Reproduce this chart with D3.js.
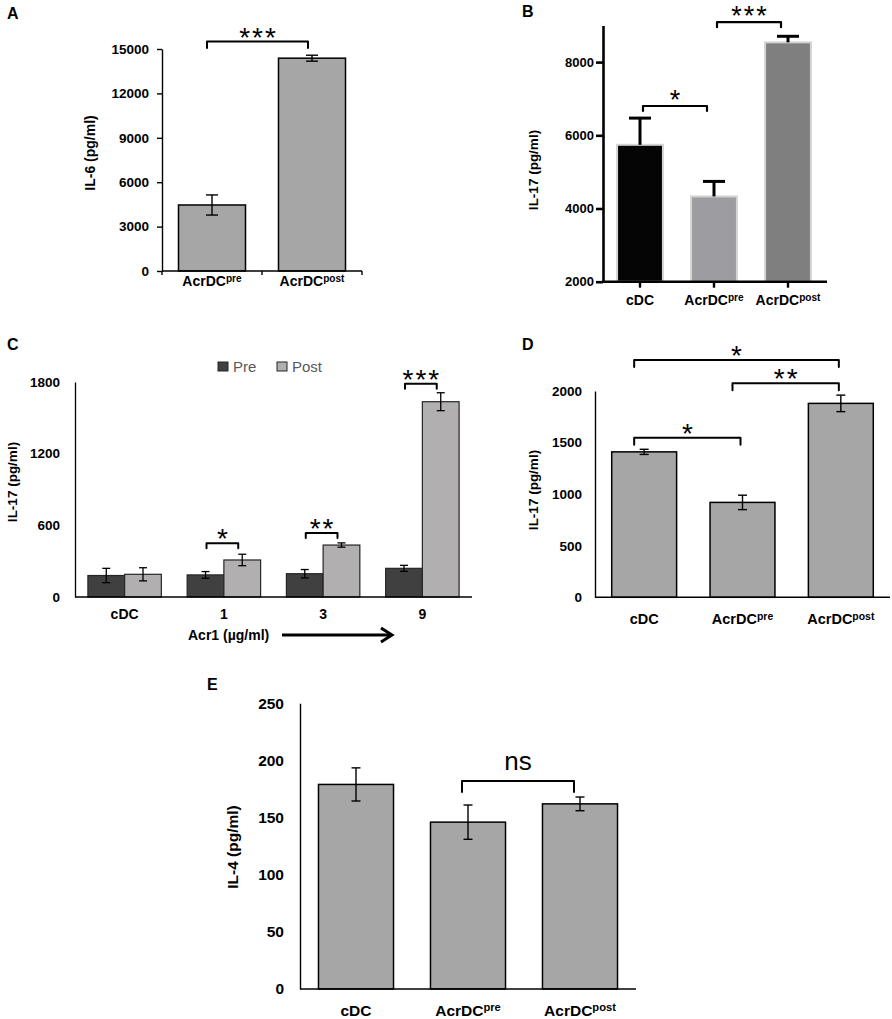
<!DOCTYPE html>
<meta charset="utf-8">
<script src="https://d3js.org/d3.v7.min.js"></script>
<style>
body { margin: 0; background: #fff; }
svg text { font-family: "Liberation Sans", Arial, sans-serif; }
</style>
<body></body>
<script>

// ---------- data ----------
// A: IL-6
var aCats = ["AcrDCpre", "AcrDCpost"];
var aValues = [4460, 14380];
var aErrors = [680, 200];
var aTicks = [0, 3000, 6000, 9000, 12000, 15000];
var aSig = [{from: 0, to: 1, level: 15500, label: "***"}];

// B: IL-17 (Prism style)
var bCats = ["cDC", "AcrDCpre", "AcrDCpost"];
var bValues = [5740, 4330, 8540];
var bErrors = [730, 410, 165];
var bTicks = [2000, 4000, 6000, 8000];
var bSig = [{from: 0, to: 1, level: 6800, label: "*"},
            {from: 1, to: 2, level: 9090, label: "***"}];

// C: IL-17 by Acr1 dose
var cDoses = ["cDC", "1", "3", "9"];
var cSeries = ["Pre", "Post"];
var cPre = [180, 185, 195, 240];
var cPreErr = [60, 28, 35, 25];
var cPost = [190, 310, 435, 1635];
var cPostErr = [55, 48, 18, 75];
var cTicks = [0, 600, 1200, 1800];
var cSig = [{dose: 1, level: 450, label: "*"},
            {dose: 2, level: 535, label: "**"},
            {dose: 3, level: 1785, label: "***"}];

// D: IL-17
var dCats = ["cDC", "AcrDCpre", "AcrDCpost"];
var dValues = [1410, 920, 1880];
var dErrors = [25, 70, 80];
var dTicks = [0, 500, 1000, 1500, 2000];
var dSig = [{from: 0, to: 2, level: 2300, label: "*"},
            {from: 1, to: 2, level: 2075, label: "**"},
            {from: 0, to: 1, level: 1547, label: "*"}];

// E: IL-4
var eCats = ["cDC", "AcrDCpre", "AcrDCpost"];
var eValues = [179, 146, 162];
var eErrors = [14.5, 15, 6];
var eTicks = [0, 50, 100, 150, 200, 250];
var eSig = [{from: 1, to: 2, level: 182, label: "ns"}];

// ---------- helpers ----------
var svg = d3.select("body").append("svg")
  .attr("width", 892)
  .attr("height", 1019);

// category text, "AcrDCpre" -> AcrDC + superscript
function catText(sel, fs) {
  sel.each(function(d) {
    var t = d3.select(this);
    var m = /^(AcrDC)(pre|post)$/.exec(d);
    if (m) {
      t.append("tspan").text(m[1]);
      t.append("tspan").attr("dy", -fs * 0.3).attr("font-size", fs * 0.72).text(m[2]);
    } else {
      t.text(d);
    }
  });
}

function stars(g, x, cy, label, fs) {
  // centre of an asterisk glyph sits ~0.575em above the baseline
  g.append("text")
    .attr("x", x + 1)
    .attr("y", cy + fs * 0.575)
    .attr("text-anchor", "middle")
    .attr("font-size", fs)
    .attr("letter-spacing", 2)
    .text(label);
}

function bracket(g, x1, x2, y, drop, w) {
  g.append("path")
    .attr("d", "M" + x1 + "," + (y + drop) + "V" + y + "H" + x2 + "V" + (y + drop))
    .attr("fill", "none")
    .attr("stroke", "#000")
    .attr("stroke-width", w || 2)
    .attr("stroke-linejoin", "round")
    .attr("stroke-linecap", "round");
}

function yLabel(g, x, y, txt, fs) {
  g.append("text")
    .attr("transform", "translate(" + x + "," + y + ") rotate(-90)")
    .attr("text-anchor", "middle")
    .attr("dy", "0.35em")
    .attr("font-size", fs)
    .attr("font-weight", "bold")
    .text(txt);
}

function letter(g, x, y, txt) {
  g.append("text").attr("x", x).attr("y", y)
    .attr("font-size", 16).attr("font-weight", "bold").text(txt);
}

function errorBars(g, data, y, cap, w, upperOnly) {
  var eb = g.append("g").attr("stroke", "#000").attr("stroke-width", w);
  eb.selectAll(".ev").data(data).enter().append("line")
    .attr("x1", function(d) { return d.x; })
    .attr("x2", function(d) { return d.x; })
    .attr("y1", function(d) { return y(d.v + d.e); })
    .attr("y2", function(d) { return upperOnly ? y(d.v) : y(d.v - d.e); });
  eb.selectAll(".ct").data(data).enter().append("line")
    .attr("x1", function(d) { return d.x - cap / 2; })
    .attr("x2", function(d) { return d.x + cap / 2; })
    .attr("y1", function(d) { return y(d.v + d.e); })
    .attr("y2", function(d) { return y(d.v + d.e); });
  if (!upperOnly) {
    eb.selectAll(".cb").data(data).enter().append("line")
      .attr("x1", function(d) { return d.x - cap / 2; })
      .attr("x2", function(d) { return d.x + cap / 2; })
      .attr("y1", function(d) { return y(d.v - d.e); })
      .attr("y2", function(d) { return y(d.v - d.e); });
  }
}

function yAxis(g, x0, y, ticks, size, pad, fs, family, sw) {
  var ax = g.append("g")
    .attr("transform", "translate(" + x0 + ",0)")
    .call(d3.axisLeft(y).tickValues(ticks).tickSize(size).tickPadding(pad).tickSizeOuter(0).tickFormat(d3.format("d")));
  ax.attr("font-size", fs).attr("font-family", family).attr("font-weight", "bold");
  ax.selectAll("path, line").attr("stroke", "#000").attr("stroke-width", sw);
  ax.selectAll("text").attr("fill", "#000");
  return ax;
}

// simple single-series bar panel (A, D, E)
function simplePanel(p) {
  var g = svg.append("g");
  var x = d3.scaleBand().domain(p.cats).range(p.xr).paddingInner(p.pad).paddingOuter(p.pad / 2);
  var y = d3.scaleLinear().domain(p.yd).range(p.yr);

  g.selectAll(".bar").data(p.values).enter().append("rect")
    .attr("x", function(d, i) { return x(p.cats[i]); })
    .attr("y", function(d) { return y(d); })
    .attr("width", x.bandwidth())
    .attr("height", function(d) { return y(p.yd[0]) - y(d); })
    .attr("fill", "#a6a6a6")
    .attr("stroke", "#000")
    .attr("stroke-width", 1.5);

  errorBars(g, p.values.map(function(v, i) {
    return {x: x(p.cats[i]) + x.bandwidth() / 2, v: v, e: p.errors[i]};
  }), y, p.cap, 1.4, false);

  yAxis(g, p.xr[0], y, p.ticks, p.tickSize, p.tickPad, p.fs, "Liberation Sans, Arial, sans-serif", 1.4);

  g.append("line")
    .attr("x1", p.xr[0]).attr("x2", p.xr[1])
    .attr("y1", y(p.yd[0])).attr("y2", y(p.yd[0]))
    .attr("stroke", "#000").attr("stroke-width", 1.4);

  g.selectAll(".cat").data(p.cats).enter().append("text")
    .attr("x", function(d) { return x(d) + x.bandwidth() / 2; })
    .attr("y", p.catY)
    .attr("text-anchor", "middle")
    .attr("font-size", p.catFs)
    .attr("font-weight", "bold")
    .call(catText, p.catFs);

  p.sig.forEach(function(s) {
    var x1 = x(p.cats[s.from]) + x.bandwidth() / 2 - p.bIn[0];
    var x2 = x(p.cats[s.to]) + x.bandwidth() / 2 - p.bIn[1];
    var yy = y(s.level);
    bracket(g, x1, x2, yy, p.drop);
    if (s.label === "ns") {
      g.append("text").attr("x", (x1 + x2) / 2).attr("y", yy - 11)
        .attr("text-anchor", "middle").attr("font-size", 26).text(s.label);
    } else {
      stars(g, (x1 + x2) / 2, yy - 11, s.label, 28);
    }
  });

  yLabel(g, p.labX, p.labY, p.yTitle, p.labFs);
  letter(g, p.letter[0], p.letter[1], p.letter[2]);
  return {g: g, x: x, y: y};
}

// ---------- A ----------
var A = simplePanel({
  cats: aCats, values: aValues, errors: aErrors, ticks: aTicks, sig: aSig,
  xr: [162, 362], pad: 0.33, yd: [0, 15000], yr: [271, 49],
  cap: 12, tickSize: 5, tickPad: 8, fs: 13.5,
  catY: 286, catFs: 14, bIn: [5, 4], drop: 6.5,
  labX: 90, labY: 153, labFs: 14, yTitle: "IL-6 (pg/ml)", letter: [7, 19, "A"]
});
// excel-style ticks between categories on A's x axis
A.g.selectAll(".xt").data(d3.range(aCats.length + 1)).enter().append("line")
  .attr("x1", function(i) { return 162 + i * A.x.step(); })
  .attr("x2", function(i) { return 162 + i * A.x.step(); })
  .attr("y1", A.y(0)).attr("y2", A.y(0) + 4)
  .attr("stroke", "#000").attr("stroke-width", 1.4);

// ---------- D ----------
simplePanel({
  cats: dCats, values: dValues, errors: dErrors, ticks: dTicks, sig: dSig,
  xr: [595, 890], pad: 0.34, yd: [0, 2000], yr: [597.3, 391],
  cap: 9, tickSize: 0, tickPad: 13, fs: 13.5,
  catY: 624, catFs: 14.5, bIn: [10, 2], drop: 7,
  labX: 533, labY: 490, labFs: 13.5, yTitle: "IL-17 (pg/ml)", letter: [522, 350, "D"]
});

// ---------- E ----------
simplePanel({
  cats: eCats, values: eValues, errors: eErrors, ticks: eTicks, sig: eSig,
  xr: [300, 636], pad: 0.33, yd: [0, 250], yr: [989, 703.3],
  cap: 9, tickSize: 0, tickPad: 16, fs: 15.5,
  catY: 1016, catFs: 15.5, bIn: [6, 6], drop: 11,
  labX: 233, labY: 847, labFs: 15.5, yTitle: "IL-4 (pg/ml)", letter: [207, 690, "E"]
});

// ---------- B ----------
(function() {
  var g = svg.append("g");
  var x = d3.scaleBand().domain(bCats).range([603, 825]).paddingInner(0.38).paddingOuter(0.19);
  var y = d3.scaleLinear().domain([2000, 9000]).range([281.7, 25.5]);
  var fills = ["#050505", "#9c9ca1", "#7f7f7f"];

  g.selectAll(".bar").data(bValues).enter().append("rect")
    .attr("x", function(d, i) { return x(bCats[i]); })
    .attr("y", function(d) { return y(d); })
    .attr("width", x.bandwidth())
    .attr("height", function(d) { return y(2000) - y(d); })
    .attr("fill", function(d, i) { return fills[i]; })
    .attr("stroke", "#d4d4d4")
    .attr("stroke-width", 2);

  errorBars(g, bValues.map(function(v, i) {
    return {x: x(bCats[i]) + x.bandwidth() / 2, v: v, e: bErrors[i]};
  }), y, 22, 3, true);

  yAxis(g, 603, y, bTicks, 7, 2, 13, "DejaVu Sans, sans-serif", 2.6);

  g.append("line").attr("x1", 602).attr("x2", 827)
    .attr("y1", y(2000)).attr("y2", y(2000))
    .attr("stroke", "#000").attr("stroke-width", 2.6);
  g.selectAll(".xt").data(bCats).enter().append("line")
    .attr("x1", function(d) { return x(d) + x.bandwidth() / 2; })
    .attr("x2", function(d) { return x(d) + x.bandwidth() / 2; })
    .attr("y1", y(2000)).attr("y2", y(2000) + 6)
    .attr("stroke", "#000").attr("stroke-width", 2.4);

  g.selectAll(".cat").data(bCats).enter().append("text")
    .attr("x", function(d) { return x(d) + x.bandwidth() / 2; })
    .attr("y", 305)
    .attr("text-anchor", "middle")
    .attr("font-size", 14)
    .attr("font-weight", "bold")
    .call(catText, 14);

  bSig.forEach(function(s) {
    var x1 = x(bCats[s.from]) + x.bandwidth() / 2 + 3;
    var x2 = x(bCats[s.to]) + x.bandwidth() / 2 - 7;
    var yy = y(s.level);
    bracket(g, x1, x2, yy, 5, 2.2);
    stars(g, (x1 + x2) / 2, yy - 13, s.label, 27);
  });

  yLabel(g, 533, 170, "IL-17 (pg/ml)", 13.5);
  letter(g, 522, 17, "B");
})();

// ---------- C ----------
(function() {
  var g = svg.append("g");
  var x = d3.scaleBand().domain(cDoses).range([75, 472]).paddingInner(0.26).paddingOuter(0.13);
  var xs = d3.scaleBand().domain(cSeries).range([0, x.bandwidth()]);
  var y = d3.scaleLinear().domain([0, 1800]).range([597, 382]);
  var fills = {Pre: "#404040", Post: "#b1afaf"};

  var rows = [];
  cDoses.forEach(function(d, i) {
    rows.push({dose: d, s: "Pre", v: cPre[i], e: cPreErr[i]});
    rows.push({dose: d, s: "Post", v: cPost[i], e: cPostErr[i]});
  });

  g.selectAll(".bar").data(rows).enter().append("rect")
    .attr("x", function(d) { return x(d.dose) + xs(d.s); })
    .attr("y", function(d) { return y(d.v); })
    .attr("width", xs.bandwidth())
    .attr("height", function(d) { return y(0) - y(d.v); })
    .attr("fill", function(d) { return fills[d.s]; })
    .attr("stroke", "#262626")
    .attr("stroke-width", 1.2);

  errorBars(g, rows.map(function(d) {
    return {x: x(d.dose) + xs(d.s) + xs.bandwidth() / 2, v: d.v, e: d.e};
  }), y, 8, 1.3, false);

  yAxis(g, 75, y, cTicks, 0, 15, 13.5, "Liberation Sans, Arial, sans-serif", 1.3);

  g.append("line").attr("x1", 75).attr("x2", 472)
    .attr("y1", y(0)).attr("y2", y(0))
    .attr("stroke", "#000").attr("stroke-width", 1.3);

  g.selectAll(".cat").data(cDoses).enter().append("text")
    .attr("x", function(d) { return x(d) + x.bandwidth() / 2; })
    .attr("y", 619)
    .attr("text-anchor", "middle")
    .attr("font-size", 14)
    .attr("font-weight", "bold")
    .text(function(d) { return d; });

  g.append("text").attr("x", 188).attr("y", 640)
    .attr("font-size", 14).attr("font-weight", "bold").text("Acr1 (µg/ml)");
  g.append("line").attr("x1", 282).attr("x2", 391).attr("y1", 635).attr("y2", 635)
    .attr("stroke", "#000").attr("stroke-width", 3);
  g.append("path").attr("d", "M381,628L392,635L381,642")
    .attr("fill", "none").attr("stroke", "#000").attr("stroke-width", 3)
    .attr("stroke-linejoin", "miter");

  cSig.forEach(function(s) {
    var d = cDoses[s.dose];
    var x1 = x(d) + xs("Pre") + xs.bandwidth() / 2 + 1;
    var x2 = x(d) + xs("Post") + xs.bandwidth() / 2 - 4;
    var yy = y(s.level);
    bracket(g, x1, x2, yy, 5);
    stars(g, (x1 + x2) / 2, yy - 11, s.label, 28);
  });

  // legend
  var lg = g.append("g").attr("transform", "translate(218,362)");
  var li = lg.selectAll(".li").data(cSeries).enter().append("g")
    .attr("transform", function(d, i) { return "translate(" + (i * 59) + ",0)"; });
  li.append("rect").attr("width", 10).attr("height", 9)
    .attr("fill", function(d) { return fills[d]; })
    .attr("stroke", "#262626").attr("stroke-width", 1);
  li.append("text").attr("x", 15).attr("y", 10)
    .attr("font-size", 15).attr("fill", "#595959")
    .attr("font-family", "Open Sans, sans-serif")
    .text(function(d) { return d; });

  yLabel(g, 12, 482, "IL-17 (pg/ml)", 13.5);
  letter(g, 7, 350, "C");
})();

</script>
